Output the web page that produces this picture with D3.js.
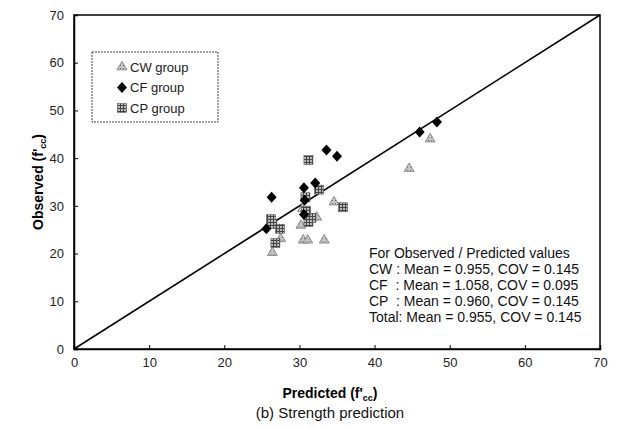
<!DOCTYPE html>
<html>
<head>
<meta charset="utf-8">
<script src="https://cdn.jsdelivr.net/npm/d3@7"></script>
<style>
  body { margin: 0; background: #fff; }
  text { font-family: "Liberation Sans", Arial, sans-serif; white-space: pre; }
</style>
</head>
<body>
<div id="chart"></div>
<script>
// CW group (triangles): [predicted, observed]
const cwPoints = [
  [26.4, 20.2], [27.5, 23.1], [30.2, 25.9], [30.4, 29.4], [32.3, 27.6],
  [34.6, 30.8], [30.5, 22.8], [31.1, 22.8], [33.3, 22.8], [44.6, 37.8],
  [47.4, 44.0]
];
// CF group (diamonds)
const cfPoints = [
  [25.6, 25.2], [26.3, 31.8], [30.6, 28.2], [30.6, 33.8], [32.1, 34.8],
  [33.6, 41.7], [35.0, 40.4], [30.7, 31.2], [46.0, 45.5], [48.3, 47.6]
];
// CP group (squares)
const cpPoints = [
  [26.2, 27.2], [26.4, 26.2], [26.8, 22.2], [27.4, 25.2], [30.8, 31.8],
  [31.2, 39.6], [31.2, 26.6], [31.6, 27.5], [32.6, 33.4], [35.8, 29.7],
  [30.9, 29.0]
];
const axisTicks = [0, 10, 20, 30, 40, 50, 60, 70];
const legendLabels = ["CW group", "CF group", "CP group"];
const statLines = [
  "For Observed / Predicted values",
  "CW : Mean = 0.955, COV = 0.145",
  "CF  : Mean = 1.058, COV = 0.095",
  "CP  : Mean = 0.960, COV = 0.145",
  "Total: Mean = 0.955, COV = 0.145"
];

const width = 624, height = 430;
const margin = {top: 15, right: 24, bottom: 81, left: 74};

const svg = d3.select("#chart").append("svg")
    .attr("width", width)
    .attr("height", height);

const defs = svg.append("defs");
// hatched gray for squares
const pat = defs.append("pattern")
    .attr("id", "grid")
    .attr("width", 3).attr("height", 3)
    .attr("patternUnits", "userSpaceOnUse");
pat.append("rect").attr("width", 3).attr("height", 3).attr("fill", "#bdbdbd");
pat.append("path").attr("d", "M0,0.5H3M0.5,0V3").attr("stroke", "#444").attr("stroke-width", 1);
// speckled gray for triangles
const pat2 = defs.append("pattern")
    .attr("id", "speck")
    .attr("width", 3).attr("height", 3)
    .attr("patternUnits", "userSpaceOnUse");
pat2.append("rect").attr("width", 3).attr("height", 3).attr("fill", "#c8c8c8");
pat2.append("rect").attr("x", 1).attr("y", 1).attr("width", 1).attr("height", 1).attr("fill", "#666");

const x = d3.scaleLinear()
    .domain([0, 70])
    .range([margin.left, width - margin.right]);
const y = d3.scaleLinear()
    .domain([0, 70])
    .range([height - margin.bottom, margin.top]);

// frame
svg.append("rect")
    .attr("x", x(0)).attr("y", y(70))
    .attr("width", x(70) - x(0)).attr("height", y(0) - y(70))
    .attr("fill", "none").attr("stroke", "#000").attr("stroke-width", 1.5);

// axes with inward ticks
const gx = svg.append("g")
    .attr("transform", `translate(0,${y(0)})`)
    .call(d3.axisBottom(x).tickValues(axisTicks).tickSize(-4).tickPadding(9));
const gy = svg.append("g")
    .attr("transform", `translate(${x(0)},0)`)
    .call(d3.axisLeft(y).tickValues(axisTicks).tickSize(-4).tickPadding(10));
[gx, gy].forEach(g => {
  g.select(".domain").attr("stroke-width", 1.5);
  g.selectAll("text").attr("font-size", 13).attr("fill", "#222")
    .style("font-family", "'Liberation Sans', Arial, sans-serif");
});

// 1:1 line
svg.append("line")
    .attr("x1", x(0)).attr("y1", y(0))
    .attr("x2", x(70)).attr("y2", y(70))
    .attr("stroke", "#000").attr("stroke-width", 1.6);

const tri = d3.symbol().type(d3.symbolTriangle).size(42);
const dia = d => `M0,-5.5L5,0L0,5.5L-5,0Z`;

function drawTri(g, px, py) {
  g.append("path").attr("d", tri())
    .attr("transform", `translate(${px},${py})`)
    .attr("fill", "url(#speck)").attr("stroke", "#777").attr("stroke-width", 0.8);
}
function drawDia(g, px, py) {
  g.append("path").attr("d", dia())
    .attr("transform", `translate(${px},${py})`)
    .attr("fill", "#000");
}
function drawSq(g, px, py) {
  g.append("rect")
    .attr("x", px - 4.5).attr("y", py - 4.5)
    .attr("width", 9).attr("height", 9)
    .attr("fill", "url(#grid)").attr("stroke", "#555").attr("stroke-width", 0.6);
}

const pts = svg.append("g");
cwPoints.forEach(d => drawTri(pts, x(d[0]), y(d[1])));
cpPoints.forEach(d => drawSq(pts, x(d[0]), y(d[1])));
cfPoints.forEach(d => drawDia(pts, x(d[0]), y(d[1])));

// legend
const lg = svg.append("g");
lg.append("rect")
    .attr("x", 92).attr("y", 52).attr("width", 126).attr("height", 70)
    .attr("fill", "#fff").attr("stroke", "#444").attr("stroke-width", 1)
    .attr("stroke-dasharray", "2,1");
const drawers = [drawTri, drawDia, drawSq];
legendLabels.forEach((lab, i) => {
  const ly = 67 + i * 20.5;
  drawers[i](lg, 122, ly);
  lg.append("text").attr("x", 130).attr("y", ly + 4.5)
    .attr("font-size", 13).attr("fill", "#222").text(lab);
});

// stats annotation
statLines.forEach((s, i) => {
  svg.append("text")
    .attr("x", 369).attr("y", 258 + i * 16)
    .attr("font-size", 14).attr("fill", "#111")
    .text(s);
});

// axis titles
const xt = svg.append("text")
    .attr("x", 330).attr("y", 398)
    .attr("text-anchor", "middle")
    .attr("font-size", 14).attr("font-weight", "bold");
xt.append("tspan").text("Predicted (f'");
xt.append("tspan").attr("font-size", 9).attr("dy", 3).text("cc");
xt.append("tspan").attr("dy", -3).text(")");

const yt = svg.append("text")
    .attr("transform", `translate(43,${y(35)}) rotate(-90)`)
    .attr("text-anchor", "middle")
    .attr("font-size", 14).attr("font-weight", "bold");
yt.append("tspan").text("Observed (f'");
yt.append("tspan").attr("font-size", 9).attr("dy", 3).text("cc");
yt.append("tspan").attr("dy", -3).text(")");

svg.append("text")
    .attr("x", 330).attr("y", 418)
    .attr("text-anchor", "middle")
    .attr("font-size", 15).attr("fill", "#111")
    .text("(b) Strength prediction");
</script>
</body>
</html>
